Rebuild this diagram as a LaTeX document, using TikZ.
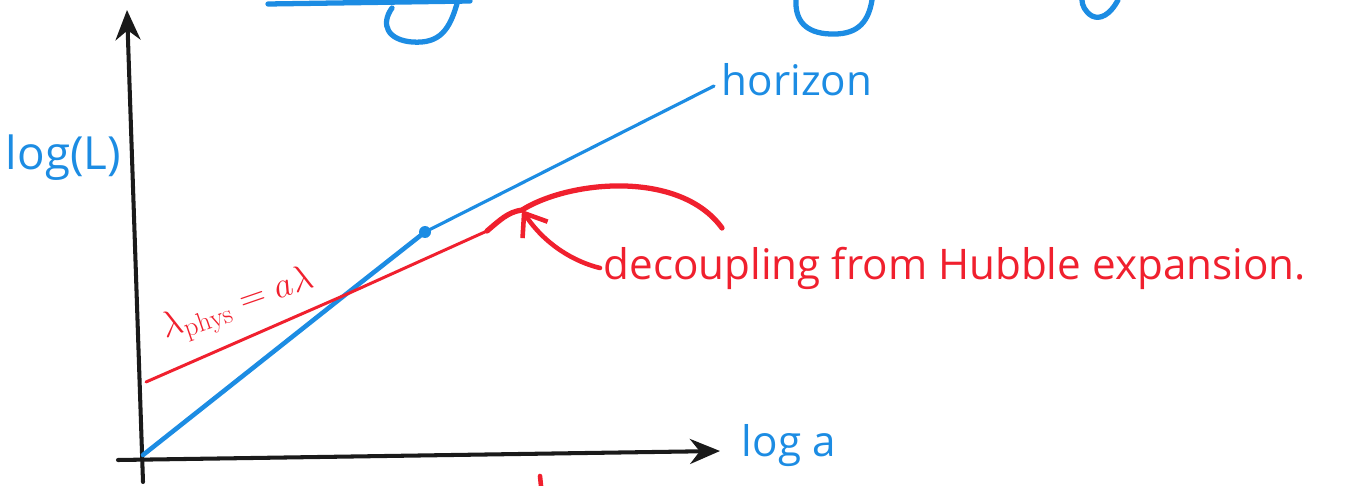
\documentclass[tikz,border=0pt]{standalone}
\usepackage{fontspec}
\setsansfont{Open Sans}
\usetikzlibrary{arrows.meta,positioning,calc}
\definecolor{pen}{HTML}{1A1A1A}
\definecolor{bluepen}{HTML}{1C8CE3}
\definecolor{redpen}{HTML}{F0202E}
\tikzset{
    axis/.style={
        -{Stealth[length=6mm,width=5mm]},
        line width=2.3pt,
        color=pen,
        line cap=round
    },
    horizonline/.style={
        line width=2.6pt,
        color=bluepen,
        line cap=round
    },
    modeline/.style={
        line width=1.7pt,
        color=redpen,
        line cap=round
    },
    bluelabel/.style={
        font=\sffamily\fontsize{24}{26}\selectfont,
        color=bluepen,
        inner sep=2pt
    },
    redlabel/.style={
        font=\sffamily\fontsize{24}{26}\selectfont,
        color=redpen,
        inner sep=2pt
    }
}
\begin{document}
\begin{tikzpicture}[x=0.02cm,y=-0.02cm]
    \useasboundingbox (0,0) rectangle (1359,486);

    % Title fragments (cut off at the top)
    \draw[bluepen,line width=3pt,line cap=round]
        (268,4) -- (470,1);
    \draw[bluepen,line width=3pt,line cap=round]
        (458,0) .. controls (450,30) and (440,44) .. (412,42)
        .. controls (388,40) and (380,25) .. (392,8);
    \draw[bluepen,line width=3pt,line cap=round]
        (872,0) .. controls (868,25) and (855,35) .. (830,34)
        .. controls (805,33) and (795,20) .. (796,0);
    \draw[bluepen,line width=3pt,line cap=round]
        (1118,0) .. controls (1110,15) and (1100,20) .. (1092,16)
        .. controls (1085,12) and (1082,5) .. (1082,0);

    % Axes
    \coordinate (O) at (143,455);
    \coordinate (ybot) at (143,482);
    \coordinate (ytip) at (127,10);
    \coordinate (xbeg) at (118,460);
    \coordinate (xtip) at (720,451);
    \draw[axis] (ybot) -- (ytip);
    \draw[axis] (xbeg) -- (xtip);

    \node[bluelabel,anchor=west] (xlab) at (738,446) {log a};
    \node[bluelabel,anchor=west,font=\sffamily\fontsize{26}{28}\selectfont]
        (ylab) at (2,158) {log(L)};

    % Horizon
    \coordinate (cross) at (345,295);
    \coordinate (hdot) at (425,232);
    \coordinate (hend) at (714,86);
    \draw[horizonline] (O) -- (cross) -- (hdot);
    \draw[horizonline,line width=1.8pt] (hdot) -- (hend);
    \fill[bluepen] (hdot) circle (6);
    \node[bluelabel,anchor=west] (hlab) at (718,80) {horizon};

    % Physical wavelength
    \coordinate (rbeg) at (146,382);
    \coordinate (rbend) at (487,231);
    \coordinate (kink) at (522,210);
    \coordinate (rend) at (722,228);
    \draw[modeline] (rbeg) -- (cross) -- (rbend);
    \draw[modeline,line width=3pt]
        (rbend) .. controls (500,220) and (508,212) .. (kink)
        .. controls (570,180) and (680,170) .. (rend);
    \node[redlabel,rotate=19,font=\fontsize{22}{24}\selectfont]
        (lam) at (238,306) {$\lambda_{\mathrm{phys}}=a\lambda$};

    % Decoupling
    \node[redlabel,anchor=west] (dec) at (600,268)
        {decoupling from Hubble expansion.};
    \draw[redpen,line width=2.6pt,line cap=round,
          -{Straight Barb[length=4mm,width=6mm]}]
        (dec.west) .. controls (575,262) and (545,245) .. (kink);

    % Tick below the axis
    \draw[redpen,line width=2.6pt,line cap=round] (540,476) -- (541,486);
\end{tikzpicture}
\end{document}
